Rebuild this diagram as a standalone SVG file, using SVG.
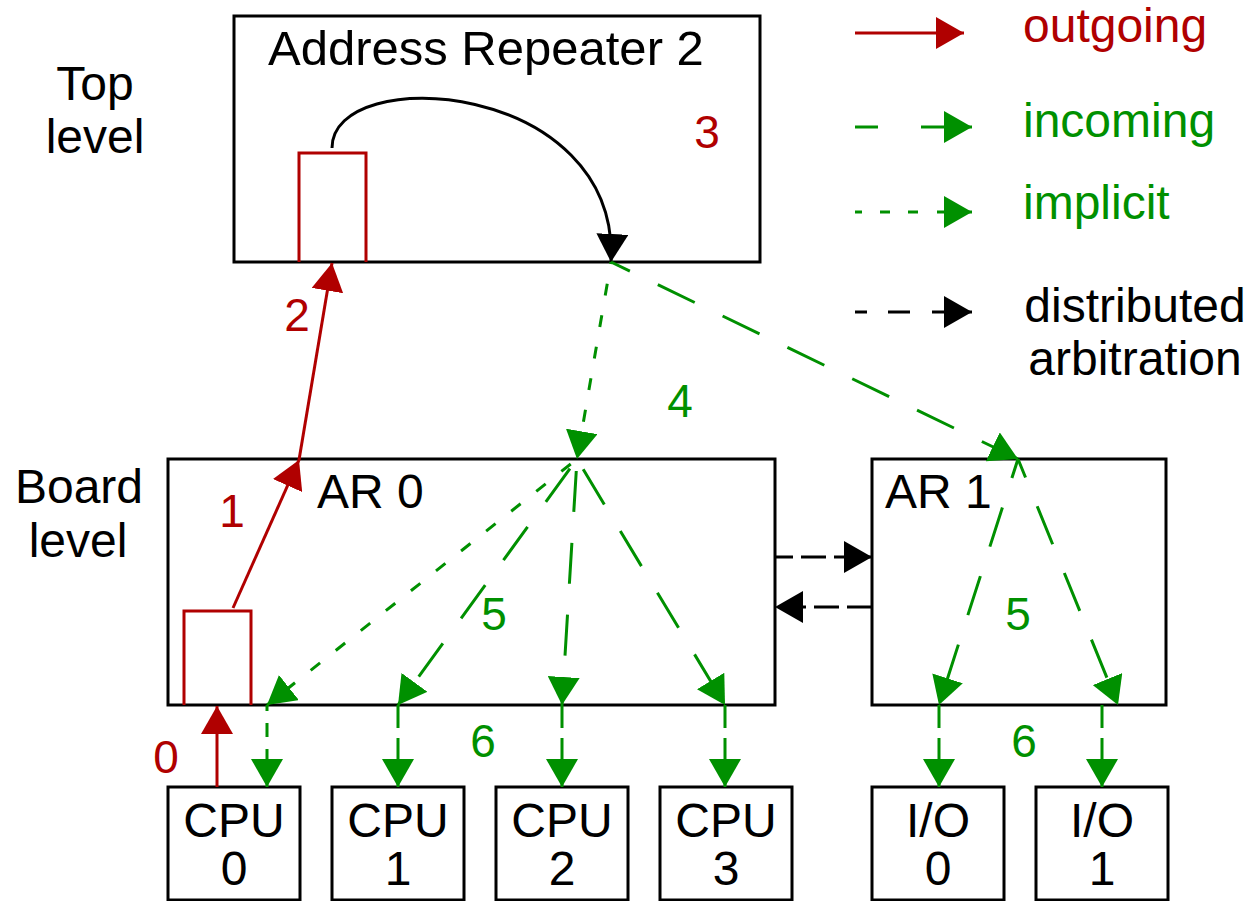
<svg xmlns="http://www.w3.org/2000/svg" width="1252" height="901" viewBox="0 0 1252 901">
<style>
text{font-family:"Liberation Sans",Arial,Helvetica,sans-serif;font-size:48px;fill:#000}
.title{font-size:49px}
.num{font-size:46px;text-anchor:middle}
.red{fill:#b00000}
.grn{fill:#009000}
.mid{text-anchor:middle}
.box{fill:#fff;stroke:#000;stroke-width:3}
.rbox{fill:none;stroke:#b00000;stroke-width:3}
.out{fill:none;stroke:#b00000;stroke-width:3;marker-end:url(#aR)}
.inc{fill:none;stroke:#009000;stroke-width:3;stroke-dasharray:41 31;marker-end:url(#aG)}
.imp{fill:none;stroke:#009000;stroke-width:3;stroke-dasharray:12 20;marker-end:url(#aG)}
.vinc{fill:none;stroke:#009000;stroke-width:3;stroke-dasharray:23 10;marker-end:url(#aG)}
.vimp{fill:none;stroke:#009000;stroke-width:3;stroke-dasharray:14 12;marker-end:url(#aG)}
.dist{fill:none;stroke:#000;stroke-width:3;stroke-dasharray:25 8;marker-end:url(#aK)}
.curve{fill:none;stroke:#000;stroke-width:3;marker-end:url(#aK)}
.lg{fill:none;stroke-width:3}
</style>
<defs>
<marker id="aR" viewBox="0 0 28 32" refX="28" refY="16" markerWidth="28" markerHeight="32" markerUnits="userSpaceOnUse" orient="auto"><path d="M0,0 L28,16 L0,32 z" fill="#b00000"/></marker>
<marker id="aG" viewBox="0 0 28 32" refX="28" refY="16" markerWidth="28" markerHeight="32" markerUnits="userSpaceOnUse" orient="auto"><path d="M0,0 L28,16 L0,32 z" fill="#009000"/></marker>
<marker id="aK" viewBox="0 0 28 32" refX="28" refY="16" markerWidth="28" markerHeight="32" markerUnits="userSpaceOnUse" orient="auto"><path d="M0,0 L28,16 L0,32 z" fill="#000"/></marker>
</defs>

<rect width="1252" height="901" fill="#fff"/>

<g id="level-labels">
<text class="mid" x="95" y="100">Top</text>
<text class="mid" x="95" y="153">level</text>
<text class="mid" x="79" y="503">Board</text>
<text class="mid" x="78" y="557">level</text>
</g>

<g id="ar2">
<rect class="box" x="234" y="16" width="526" height="246"/>
<text class="title" x="268" y="65">Address Repeater 2</text>
<path class="rbox" d="M299,262 V153 H366 V262"/>
</g>

<g id="ar0">
<rect class="box" x="168" y="459" width="607" height="246"/>
<text x="317" y="508">AR 0</text>
<path class="rbox" d="M184,705 V611 H251 V705"/>
</g>

<g id="ar1">
<rect class="box" x="872" y="459" width="294" height="246"/>
<text x="885" y="508">AR 1</text>
</g>

<g id="cpu0"><rect class="box" x="168" y="787" width="132" height="113"/><text class="mid" x="234" y="837">CPU</text><text class="mid" x="234" y="885">0</text></g>
<g id="cpu1"><rect class="box" x="332" y="787" width="132" height="113"/><text class="mid" x="398" y="837">CPU</text><text class="mid" x="398" y="885">1</text></g>
<g id="cpu2"><rect class="box" x="496" y="787" width="132" height="113"/><text class="mid" x="562" y="837">CPU</text><text class="mid" x="562" y="885">2</text></g>
<g id="cpu3"><rect class="box" x="660" y="787" width="132" height="113"/><text class="mid" x="726" y="837">CPU</text><text class="mid" x="726" y="885">3</text></g>
<g id="io0"><rect class="box" x="872" y="787" width="132" height="113"/><text class="mid" x="938" y="837">I/O</text><text class="mid" x="938" y="885">0</text></g>
<g id="io1"><rect class="box" x="1036" y="787" width="132" height="113"/><text class="mid" x="1102" y="837">I/O</text><text class="mid" x="1102" y="885">1</text></g>

<g id="connectors">
<line class="out" x1="217" y1="787" x2="217" y2="706"/>
<line class="out" x1="233" y1="608" x2="299" y2="460"/>
<line class="out" x1="299" y1="460" x2="332" y2="263"/>
<path class="curve" d="M332,148 C332,62 620,80 611,262"/>
<line class="imp" x1="611" y1="262" x2="577" y2="459" stroke-dashoffset="-22"/>
<line class="inc" x1="611" y1="262" x2="1018" y2="459" stroke-dashoffset="20"/>
<line class="imp" x1="577" y1="459" x2="267" y2="705" stroke-dashoffset="-8"/>
<line class="inc" x1="577" y1="459" x2="398" y2="705" stroke-dashoffset="-12"/>
<line class="inc" x1="577" y1="459" x2="562" y2="705" stroke-dashoffset="-12"/>
<line class="inc" x1="577" y1="459" x2="725" y2="705" stroke-dashoffset="-12"/>
<line class="vimp" x1="267" y1="705" x2="267" y2="787" stroke-dashoffset="8"/>
<line class="vinc" x1="398" y1="705" x2="398" y2="787"/>
<line class="vinc" x1="562" y1="705" x2="562" y2="787"/>
<line class="vinc" x1="725" y1="705" x2="725" y2="787"/>
<line class="inc" x1="1018" y1="459" x2="939" y2="705" stroke-dashoffset="21"/>
<line class="inc" x1="1018" y1="459" x2="1118" y2="705" stroke-dashoffset="21"/>
<line class="vinc" x1="939" y1="705" x2="939" y2="787"/>
<line class="vinc" x1="1102" y1="705" x2="1102" y2="787"/>
<line class="dist" x1="775" y1="557" x2="872" y2="557" stroke-dashoffset="7"/>
<line class="dist" x1="872" y1="607" x2="775" y2="607"/>
</g>

<g id="step-labels">
<text class="num red" x="166" y="773">0</text>
<text class="num red" x="232" y="527">1</text>
<text class="num red" x="297" y="331">2</text>
<text class="num red" x="707" y="148">3</text>
<text class="num grn" x="680" y="417">4</text>
<text class="num grn" x="494" y="630">5</text>
<text class="num grn" x="1018" y="630">5</text>
<text class="num grn" x="483" y="757">6</text>
<text class="num grn" x="1024" y="757">6</text>
</g>

<g id="legend">
<path class="lg" d="M855,33 H964" stroke="#b00000" marker-end="url(#aR)"/>
<text class="red" x="1023" y="42">outgoing</text>
<path class="lg" d="M855,127 H878 M921,127 H972" stroke="#009000" marker-end="url(#aG)"/>
<text class="grn" x="1023" y="137">incoming</text>
<path class="lg" d="M855,212 H862 M880,212 H890 M908,212 H918 M937,212 H972" stroke="#009000" marker-end="url(#aG)"/>
<text class="grn" x="1023" y="219">implicit</text>
<path class="lg" d="M855,312 H867 M888,312 H910 M932,312 H972" stroke="#000" marker-end="url(#aK)"/>
<text class="mid" x="1135" y="322">distributed</text>
<text class="mid" x="1135" y="375">arbitration</text>
</g>
</svg>
